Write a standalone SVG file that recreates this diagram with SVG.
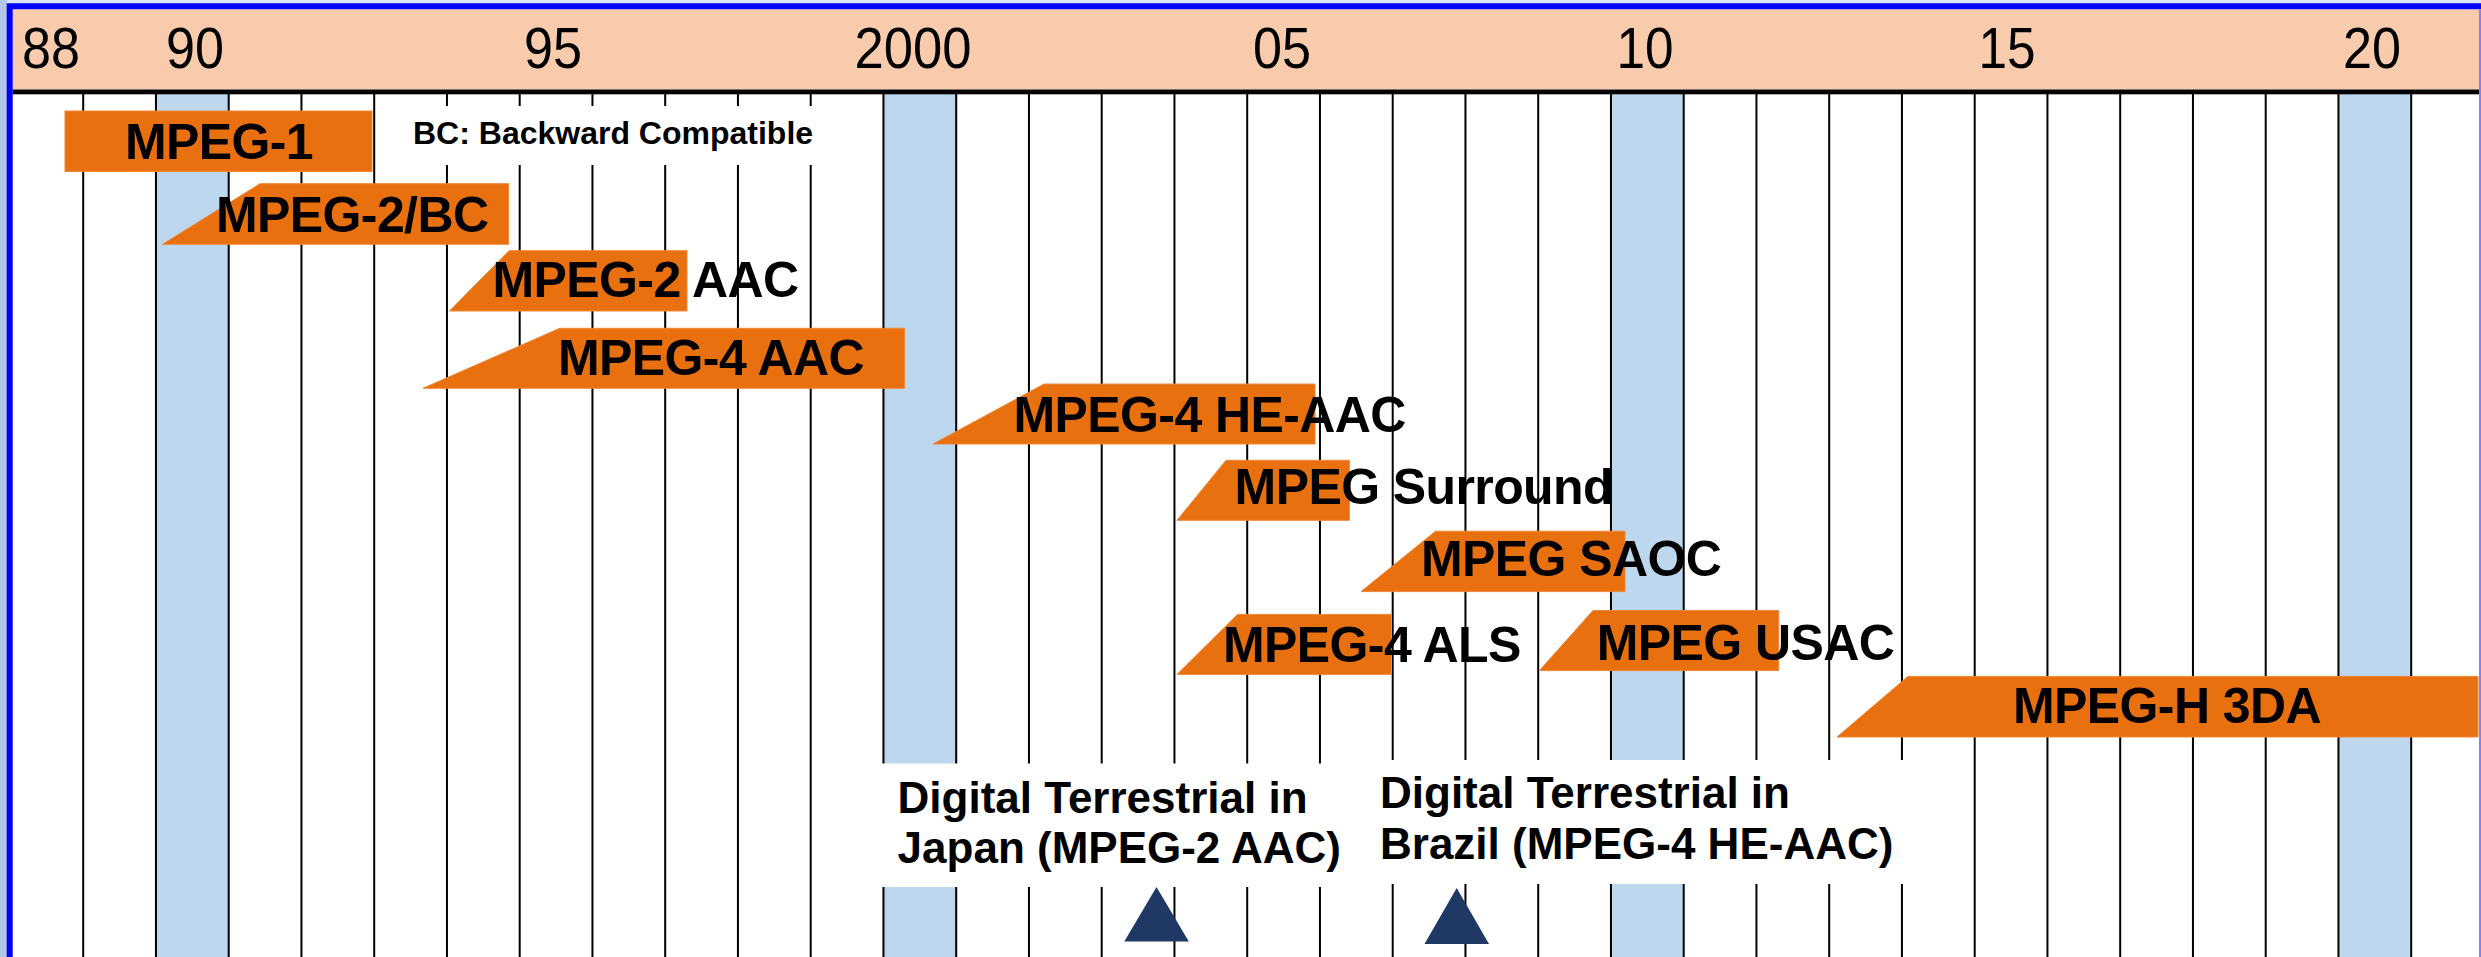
<svg xmlns="http://www.w3.org/2000/svg" width="2481" height="957" viewBox="0 0 2481 957">
<style>
.lbl{font-family:"Liberation Sans",Arial,sans-serif;font-weight:bold;font-size:50px;letter-spacing:-0.6px;fill:#000}
.yr{font-family:"Liberation Sans",Arial,sans-serif;font-size:57px;fill:#000;text-anchor:middle}
.note{font-family:"Liberation Sans",Arial,sans-serif;font-weight:bold;font-size:32px;fill:#000}
.dt{font-family:"Liberation Sans",Arial,sans-serif;font-weight:bold;font-size:44px;fill:#000}
.bar{fill:#E9700F;stroke:#EF8737;stroke-width:1}
.band{fill:#BDD7EE}
.tri{fill:#203864}
.wbox{fill:#FFFFFF}
</style>
<rect x="0" y="0" width="2481" height="957" fill="#FFFFFF"/>
<rect x="0" y="0" width="2481" height="4" fill="#DAE3F3"/>
<rect x="0" y="0" width="7" height="957" fill="#B4C6E7"/>
<g id="bands">
<rect class="band" x="155.95" y="94" width="72.75" height="863"/>
<rect class="band" x="883.45" y="94" width="72.75" height="863"/>
<rect class="band" x="1610.95" y="94" width="72.75" height="863"/>
<rect class="band" x="2338.45" y="94" width="72.75" height="863"/>
</g>
<g id="grid" stroke="#000" stroke-width="2" fill="none">
<path d="M83.2 90V957M155.95 90V957M228.7 90V957M301.45 90V957M374.2 90V957M446.95 90V957M519.7 90V957M592.45 90V957M665.2 90V957M737.95 90V957M810.7 90V957M883.45 90V957M956.2 90V957M1028.95 90V957M1101.7 90V957M1174.45 90V957M1247.2 90V957M1319.95 90V957M1392.7 90V957M1465.45 90V957M1538.2 90V957M1610.95 90V957M1683.7 90V957M1756.45 90V957M1829.2 90V957M1901.95 90V957M1974.7 90V957M2047.45 90V957M2120.2 90V957M2192.95 90V957M2265.7 90V957M2338.45 90V957M2411.2 90V957"/>
</g>
<g id="connectors"></g>
<g id="note-bc">
<rect class="wbox" x="395" y="106" width="465" height="59"/>
<text class="note" x="413" y="144">BC: Backward Compatible</text>
</g>
<g id="mpeg1">
<rect class="bar" x="65" y="111" width="307" height="60.5"/>
<text class="lbl" x="219" y="159" text-anchor="middle">MPEG-1</text>
</g>
<g id="mpeg2bc">
<polygon class="bar" points="260,183.7 508.6,183.7 508.6,244.3 162.5,244.3"/>
<text class="lbl" x="216" y="231.7">MPEG-2/BC</text>
</g>
<g id="mpeg2aac">
<polygon class="bar" points="509,250.7 687,250.7 687,311 449.5,311"/>
<text class="lbl" x="492.5" y="296.7">MPEG-2 AAC</text>
</g>
<g id="mpeg4aac">
<polygon class="bar" points="559.7,328.3 904.5,328.3 904.5,388.3 423,388.3"/>
<text class="lbl" x="558" y="375">MPEG-4 AAC</text>
</g>
<g id="mpeg4heaac">
<polygon class="bar" points="1044,384 1315,384 1315,444 933,444"/>
<text class="lbl" x="1013.5" y="432">MPEG-4 HE-AAC</text>
</g>
<g id="mpegsurround">
<polygon class="bar" points="1226,460.3 1349.4,460.3 1349.4,520.3 1177,520.3"/>
<text class="lbl" x="1234.6" y="503.7">MPEG Surround</text>
</g>
<g id="mpegsaoc">
<polygon class="bar" points="1435.5,531.2 1625,531.2 1625,591.6 1361,591.6"/>
<text class="lbl" x="1421" y="575.7">MPEG SAOC</text>
</g>
<g id="mpeg4als">
<polygon class="bar" points="1237.4,614.4 1391.3,614.4 1391.3,674.4 1177,674.4"/>
<text class="lbl" x="1223" y="661.6">MPEG-4 ALS</text>
</g>
<g id="mpegusac">
<polygon class="bar" points="1593,610.5 1778.7,610.5 1778.7,670.6 1539.4,670.6"/>
<text class="lbl" x="1596.8" y="659.7">MPEG USAC</text>
</g>
<g id="mpegh3da">
<polygon class="bar" points="1907.9,676.4 2478,676.4 2478,737 1837,737"/>
<text class="lbl" x="2013" y="722.8">MPEG-H 3DA</text>
</g>
<g id="japan">
<rect class="wbox" x="850" y="763.5" width="510" height="123.5"/>
<text class="dt" x="897.6" y="812.5">Digital Terrestrial in</text>
<text class="dt" x="897.6" y="863">Japan (MPEG-2 AAC)</text>
<polygon class="tri" points="1156.5,887 1188.8,941.5 1124.3,941.5"/>
</g>
<g id="brazil">
<rect class="wbox" x="1360" y="760" width="555" height="124"/>
<text class="dt" x="1380" y="808">Digital Terrestrial in</text>
<text class="dt" x="1380" y="859">Brazil (MPEG-4 HE-AAC)</text>
<polygon class="tri" points="1456.7,888 1489,944 1424.5,944"/>
</g>
<g id="header">
<rect x="12.7" y="9.3" width="2466.3" height="80.2" fill="#F8CBAD"/>
<rect x="12.7" y="89.5" width="2466.3" height="4.8" fill="#000"/>
<text class="yr" x="51" y="68" textLength="58" lengthAdjust="spacingAndGlyphs">88</text>
<text class="yr" x="195" y="68" textLength="58" lengthAdjust="spacingAndGlyphs">90</text>
<text class="yr" x="553" y="68" textLength="58" lengthAdjust="spacingAndGlyphs">95</text>
<text class="yr" x="913" y="68" textLength="117" lengthAdjust="spacingAndGlyphs">2000</text>
<text class="yr" x="1282" y="68" textLength="58" lengthAdjust="spacingAndGlyphs">05</text>
<text class="yr" x="1645" y="68" textLength="57" lengthAdjust="spacingAndGlyphs">10</text>
<text class="yr" x="2007" y="68" textLength="57" lengthAdjust="spacingAndGlyphs">15</text>
<text class="yr" x="2372" y="68" textLength="58" lengthAdjust="spacingAndGlyphs">20</text>
</g>
<g id="frame" fill="none">
<path d="M9.7 957V6.3H2481" stroke="#0000FF" stroke-width="6"/>
<path d="M2480 9.3V957" stroke="#8080FF" stroke-width="2"/>
</g>
</svg>
